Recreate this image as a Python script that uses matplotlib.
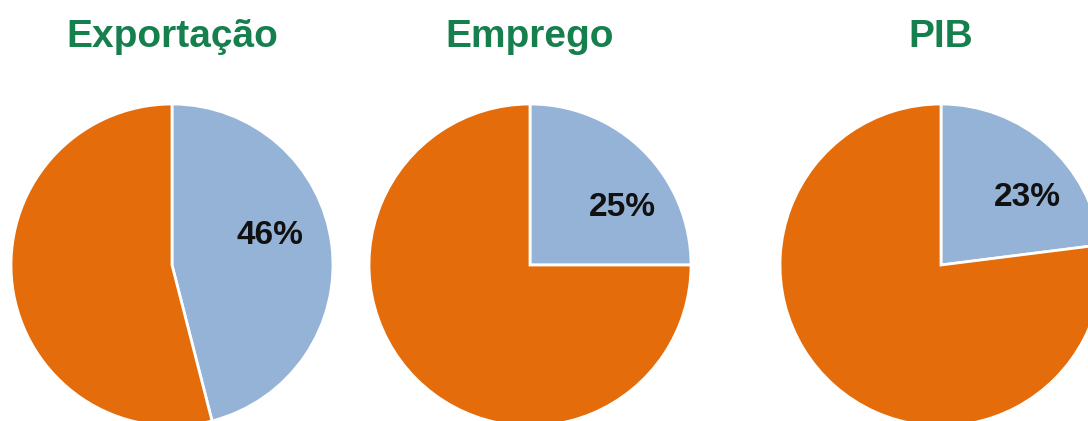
import matplotlib
matplotlib.use("Agg")
import matplotlib.pyplot as plt

# Data
titles = ["Exportação", "Emprego", "PIB"]
shares = [46, 25, 23]          # highlighted share (%)
colors = ["#95B3D7", "#E46C0A"]
title_color = "#167F4E"

# Layout (pixel space, y up)
W, H = 1088, 421
centers = [(172, 156), (530, 156), (941, 156)]
radius = 161
label_offsets = [(98, 30), (92, 57), (86, 67)]
title_y = 384

fig = plt.figure(figsize=(W / 100, H / 100), dpi=100)
ax = fig.add_axes([0, 0, 1, 1])

for title, share, (cx, cy), (dx, dy) in zip(titles, shares, centers, label_offsets):
    ax.pie([share, 100 - share], colors=colors, startangle=90, counterclock=False,
           center=(cx, cy), radius=radius, frame=True,
           wedgeprops=dict(edgecolor="white", linewidth=2))
    ax.text(cx + dx, cy + dy, f"{share}%", ha="center", va="center",
            fontsize=24, fontweight="bold", color="#111111",
            family="Liberation Sans")
    ax.text(cx, title_y, title, ha="center", va="center", fontsize=28,
            fontweight="bold", color=title_color, family="Liberation Sans")

ax.set_xlim(0, W)
ax.set_ylim(0, H)
ax.set_aspect("equal")
ax.axis("off")
fig.savefig("out.png", dpi=100)
